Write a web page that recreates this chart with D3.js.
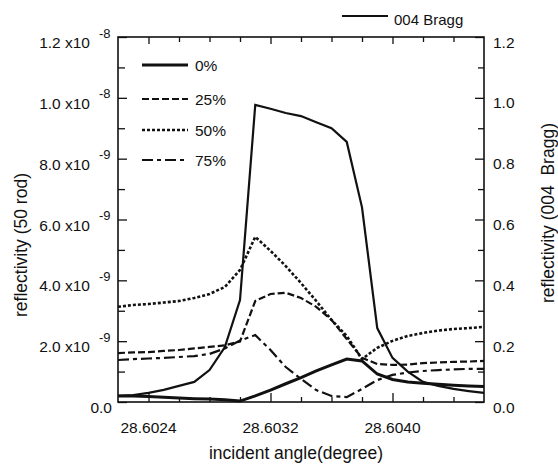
<!DOCTYPE html>
<html>
<head>
<meta charset="utf-8">
<script src="https://cdn.jsdelivr.net/npm/d3@7"></script>
<style>
  body { margin: 0; background: #fff; }
  text { font-family: "Liberation Sans", Arial, Helvetica, sans-serif; fill: #111; }
</style>
</head>
<body>
<div id="chart"></div>
<script>
// incident angle (degree), one point every 0.0001
var angle = [28.6022, 28.6023, 28.6024, 28.6025, 28.6026, 28.6027, 28.6028, 28.6029,
             28.6030, 28.6031, 28.6032, 28.6033, 28.6034, 28.6035, 28.6036, 28.6037,
             28.6038, 28.6039, 28.6040, 28.6041, 28.6042, 28.6043, 28.6044, 28.6045, 28.6046];

// reflectivity of the 50 rod, in units of 1e-9 (left axis)
var p0  = [0.20, 0.20, 0.18, 0.16, 0.13, 0.11, 0.10, 0.07, 0.03, 0.20, 0.39, 0.60, 0.80,
           1.02, 1.22, 1.41, 1.35, 0.92, 0.74, 0.66, 0.62, 0.58, 0.55, 0.53, 0.51];
var p25 = [1.61, 1.63, 1.64, 1.68, 1.71, 1.76, 1.81, 1.86, 1.99, 3.32, 3.55, 3.59, 3.42,
           3.13, 2.70, 2.07, 1.45, 1.25, 1.22, 1.23, 1.28, 1.30, 1.32, 1.33, 1.35];
var p50 = [3.13, 3.19, 3.22, 3.27, 3.32, 3.42, 3.55, 3.78, 4.34, 5.43, 4.97, 4.47, 3.91,
           3.32, 2.70, 2.17, 1.41, 1.78, 2.01, 2.17, 2.27, 2.35, 2.40, 2.43, 2.47];
var p75 = [1.38, 1.41, 1.43, 1.45, 1.48, 1.51, 1.58, 1.76, 2.02, 2.20, 1.71, 1.15, 0.76,
           0.39, 0.20, 0.16, 0.43, 0.72, 0.89, 0.97, 1.02, 1.05, 1.07, 1.09, 1.09];

// 004 Bragg reflectivity (right axis)
var bragg = [0.020, 0.023, 0.030, 0.040, 0.053, 0.066, 0.105, 0.180, 0.335, 0.977, 0.964,
             0.950, 0.940, 0.920, 0.900, 0.855, 0.640, 0.243, 0.145, 0.100, 0.066, 0.053,
             0.043, 0.036, 0.030];

var seriesNames = ["0%", "25%", "50%", "75%"];

var xMajor = [28.6024, 28.6032, 28.6040];
var xMinor = [28.6026, 28.6028, 28.6030, 28.6034, 28.6036, 28.6038, 28.6042, 28.6044];
var xLabels = ["28.6024", "28.6032", "28.6040"];

var yLeftMajor = [0, 2, 4, 6, 8, 10, 12];
var yLeftMinor = [1, 3, 5, 7, 9, 11];
var yLeftMant = ["0.0", "2.0 x10", "4.0 x10", "6.0 x10", "8.0 x10", "1.0 x10", "1.2 x10"];
var yLeftExp  = ["", "-9", "-9", "-9", "-9", "-8", "-8"];

var yRightMajor = [0, 0.2, 0.4, 0.6, 0.8, 1.0, 1.2];
var yRightMinor = [0.1, 0.3, 0.5, 0.7, 0.9, 1.1];
var yRightLabels = ["0.0", "0.2", "0.4", "0.6", "0.8", "1.0", "1.2"];

var W = 558, H = 465;
var plotL = 118, plotR = 484, plotT = 37, plotB = 402;

var svg = d3.select("#chart").append("svg")
    .attr("width", W).attr("height", H);

var x = d3.scaleLinear().domain([28.6022, 28.6046]).range([plotL, plotR]);
var yL = d3.scaleLinear().domain([0, 12]).range([plotB, plotT]);
var yR = d3.scaleLinear().domain([0, 1.2]).range([plotB, plotT]);

// ticks (all pointing inward)
function ticks(axis, tr) {
  var g = svg.append("g").attr("transform", tr).call(axis);
  g.select(".domain").remove();
  g.selectAll("line").attr("stroke", "#111").attr("stroke-width", 1.3);
  g.selectAll("text").remove();
}
ticks(d3.axisBottom(x).tickValues(xMajor).tickSize(-9), "translate(0," + plotB + ")");
ticks(d3.axisBottom(x).tickValues(xMinor).tickSize(-5), "translate(0," + plotB + ")");
ticks(d3.axisTop(x).tickValues(xMajor).tickSize(-7), "translate(0," + plotT + ")");
ticks(d3.axisTop(x).tickValues(xMinor).tickSize(-5), "translate(0," + plotT + ")");
ticks(d3.axisLeft(yL).tickValues(yLeftMajor).tickSize(-9), "translate(" + plotL + ",0)");
ticks(d3.axisLeft(yL).tickValues(yLeftMinor).tickSize(-7), "translate(" + plotL + ",0)");
ticks(d3.axisRight(yR).tickValues(yRightMajor).tickSize(-9), "translate(" + plotR + ",0)");
ticks(d3.axisRight(yR).tickValues(yRightMinor).tickSize(-6), "translate(" + plotR + ",0)");

// frame
svg.append("rect")
    .attr("x", plotL).attr("y", plotT)
    .attr("width", plotR - plotL).attr("height", plotB - plotT)
    .attr("fill", "none").attr("stroke", "#111").attr("stroke-width", 1.6);

// tick labels
svg.selectAll(".xl").data(xMajor).enter().append("text")
    .attr("x", function(d) { return x(d); })
    .attr("y", 433)
    .attr("text-anchor", "middle")
    .style("font-size", "15.5px")
    .text(function(d, i) { return xLabels[i]; });

yLeftMajor.forEach(function(v, i) {
  var yy = yL(v);
  svg.append("text")
      .attr("x", yLeftExp[i] ? 90 : 112)
      .attr("y", yy + 11)
      .attr("text-anchor", "end")
      .style("font-size", "15.5px")
      .text(yLeftMant[i]);
  if (yLeftExp[i]) {
    svg.append("text")
        .attr("x", 99)
        .attr("y", yy + 0.5)
        .style("font-size", "13px")
        .text(yLeftExp[i]);
  }
});

yRightMajor.forEach(function(v, i) {
  svg.append("text")
      .attr("x", 493)
      .attr("y", yR(v) + 10.5)
      .style("font-size", "15.5px")
      .text(yRightLabels[i]);
});

// axis titles
svg.append("text")
    .attr("transform", "translate(296,459)")
    .attr("text-anchor", "middle")
    .style("font-size", "17.5px")
    .text("incident angle(degree)");

svg.append("text")
    .attr("transform", "translate(27,245) rotate(-90)")
    .attr("text-anchor", "middle")
    .style("font-size", "17.5px")
    .text("reflectivity (50 rod)");

svg.append("text")
    .attr("transform", "translate(554,213) rotate(-90)")
    .attr("text-anchor", "middle")
    .style("font-size", "17.5px")
    .text("reflectivity (004\u00a0\u00a0Bragg)");

// curves
var styles = [
  {data: p0,  width: 3,   dash: null},
  {data: p25, width: 2.2, dash: "7,3"},
  {data: p50, width: 2.6, dash: "3,2"},
  {data: p75, width: 2.2, dash: "11,4,4,4"}
];

var lineL = d3.line()
    .x(function(d, i) { return x(angle[i]); })
    .y(function(d) { return yL(d); });

var lineR = d3.line()
    .x(function(d, i) { return x(angle[i]); })
    .y(function(d) { return yR(d); });

svg.append("path")
    .attr("d", lineR(bragg))
    .attr("fill", "none")
    .attr("stroke", "#111")
    .attr("stroke-width", 2.2);

styles.forEach(function(s) {
  svg.append("path")
      .attr("d", lineL(s.data))
      .attr("fill", "none")
      .attr("stroke", "#111")
      .attr("stroke-width", s.width)
      .attr("stroke-dasharray", s.dash);
});

// legend inside the plot
var legY = [65, 99, 130, 160];
styles.forEach(function(s, i) {
  svg.append("line")
      .attr("x1", 142).attr("x2", 188)
      .attr("y1", legY[i]).attr("y2", legY[i])
      .attr("stroke", "#111")
      .attr("stroke-width", s.width)
      .attr("stroke-dasharray", s.dash);
  svg.append("text")
      .attr("x", 195).attr("y", legY[i] + 5.5)
      .style("font-size", "15.5px")
      .text(seriesNames[i]);
});

// legend for the Bragg curve, above the frame
svg.append("line")
    .attr("x1", 342).attr("x2", 388)
    .attr("y1", 16).attr("y2", 16)
    .attr("stroke", "#111").attr("stroke-width", 2);
svg.append("text")
    .attr("x", 394).attr("y", 25)
    .style("font-size", "15px")
    .text("004 Bragg");
</script>
</body>
</html>
